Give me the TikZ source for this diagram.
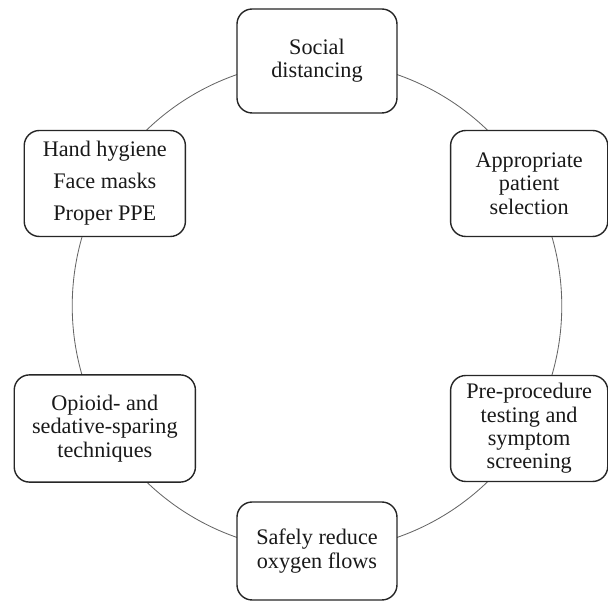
\documentclass[tikz,border=0pt]{standalone}
\usepackage{fontspec}
\setmainfont{Liberation Serif}
\usetikzlibrary{backgrounds}
\tikzset{
  measbox/.style={draw=black!85,fill=white,rounded corners=3.8mm,
    line width=1pt,align=center,inner sep=1pt,text=black!90,
    font=\fontsize{15.8}{16.6}\selectfont},
  ringarc/.style={black!60,line width=0.6pt,bend left=30,looseness=0.91},
}
\begin{document}
\begin{tikzpicture}
  \useasboundingbox (-7.925,-7.475) rectangle (7.275,7.65);
  \node[measbox,minimum width=40mm,minimum height=26mm] (soc) at (90:6.125)
    {Social\\distancing};
  \node[measbox,minimum width=39.3mm,minimum height=26.5mm] (app) at (30:6.125)
    {Appropriate\\patient\\selection};
  \node[measbox,minimum width=39.3mm,minimum height=26.5mm] (pre) at (-30:6.125)
    {Pre-procedure\\testing and\\symptom\\screening};
  \node[measbox,minimum width=40mm,minimum height=24.5mm] (oxy) at (-90:6.125)
    {Safely reduce\\oxygen flows};
  \node[measbox,minimum width=45.3mm,minimum height=26.8mm] (opi) at (210:6.125)
    {Opioid- and\\sedative-sparing\\techniques};
  \node[measbox,minimum width=40.3mm,minimum height=26.5mm,
    font=\fontsize{15.8}{22.7}\selectfont] (hyg) at (150:6.125)
    {Hand hygiene\\Face masks\\Proper PPE};
  % the ring behind the boxes
  \begin{scope}[on background layer]
    \draw[ringarc] (soc.center) to (app.center);
    \draw[ringarc] (app.center) to (pre.center);
    \draw[ringarc] (pre.center) to (oxy.center);
    \draw[ringarc] (oxy.center) to (opi.center);
    \draw[ringarc] (opi.center) to (hyg.center);
    \draw[ringarc] (hyg.center) to (soc.center);
  \end{scope}
\end{tikzpicture}
\end{document}
